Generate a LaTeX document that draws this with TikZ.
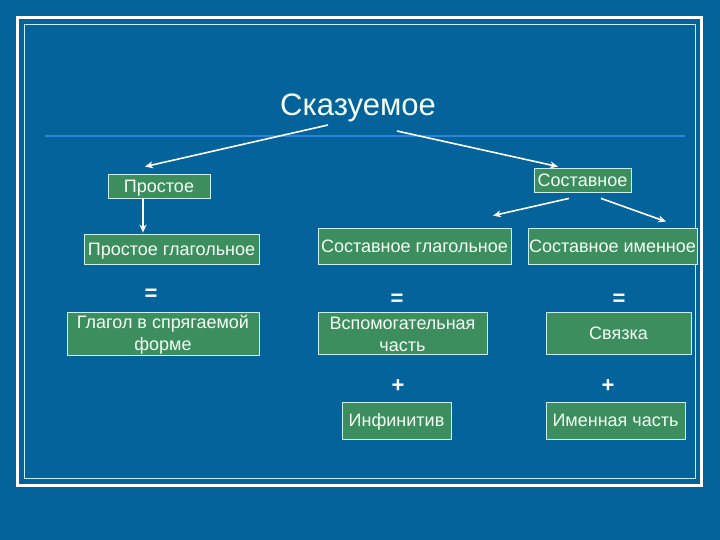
\documentclass[tikz,border=0pt]{standalone}
\usepackage{fontspec}
\setmainfont{Liberation Sans}
\usetikzlibrary{arrows.meta,calc,positioning}
\definecolor{skazBlue}{HTML}{03639A}
\definecolor{skazGreen}{HTML}{3D8E5F}
\definecolor{skazEdge}{HTML}{C8F0EE}
\definecolor{skazRule}{HTML}{2A84DE}
\definecolor{skazText}{HTML}{F4FFF6}

\begin{document}
\begin{tikzpicture}[x=1pt,y=-1pt, every node/.style={font=\fontsize{18}{22}\selectfont, text=skazText},
    box/.style={draw=skazEdge, fill=skazGreen, line width=0.8pt, inner sep=1pt, align=center},
    oneline/.style={text height=15pt, text depth=2.1pt},
    twoline/.style={inner ysep=0pt},
    arr/.style={draw=white, line width=1.6pt, -{Stealth[length=8pt,width=7pt]}},
    sign/.style={font=\fontsize{22}{24}\selectfont\bfseries, text=white}]
    \useasboundingbox (0,0) rectangle (720,540);
    \fill[skazBlue] (0,0) rectangle (720,540);
    \draw[white, line width=3pt] (17.5,17.5) rectangle (701.5,485.5);
    \draw[skazEdge, line width=0.8pt] (24.5,24.5) rectangle (695.5,478.5);
    \draw[skazRule, line width=1.2pt] (45,136) -- (685,136);
    \node[font=\fontsize{31}{34}\selectfont, anchor=base] (title) at (358,116) {Сказуемое};

    \node[box, oneline, minimum width=102, minimum height=24] (prost) at (159,186) {Простое};
    \node[box, oneline, minimum width=97, minimum height=24] (sost) at (582.5,180) {Составное};
    \node[box, oneline, minimum width=175, minimum height=30] (pglag) at (171.5,249) {Простое глагольное};
    \node[box, oneline, minimum width=193, minimum height=36] (sglag) at (414.5,246) {Составное глагольное};
    \node[box, oneline, minimum width=169, minimum height=36] (simen) at (612.5,246) {Составное именное};
    \node[box, twoline, minimum width=192, minimum height=43] (glagol) at (163,333.5) {\rule{0pt}{16pt}Глагол в спрягаемой\\форме};
    \node[box, twoline, minimum width=169, minimum height=42] (vspom) at (402.5,333) {\rule{0pt}{16pt}Вспомогательная\\часть};
    \node[box, oneline, minimum width=145, minimum height=42] (svyaz) at (618.5,333) {Связка};
    \node[box, oneline, minimum width=109, minimum height=37] (infin) at (396.5,420.5) {Инфинитив};
    \node[box, oneline, minimum width=139, minimum height=37] (imen) at (615.5,420.5) {Именная часть};

    \node[sign] (eq1) at (151,295) {=};
    \node[sign] (eq2) at (397,300) {=};
    \node[sign] (eq3) at (619,300) {=};
    \node[sign] (pl1) at (398,386) {+};
    \node[sign] (pl2) at (608,386) {+};

    \draw[arr] ([xshift=-30pt,yshift=-9pt]title.base) -- ([xshift=-14pt,yshift=7pt]prost.north);
    \draw[arr] ([xshift=39pt,yshift=-15pt]title.base) -- ([xshift=-24.5pt,yshift=1pt]sost.north);
    \draw[arr] ([xshift=-16pt]prost.south) -- ([xshift=-16pt,yshift=1pt]prost.south |- pglag.north);
    \draw[arr] ([xshift=-13.5pt,yshift=-6pt]sost.south) -- ([xshift=78.5pt,yshift=12pt]sglag.north);
    \draw[arr] ([xshift=18.5pt,yshift=-6pt]sost.south) -- ([xshift=53.5pt,yshift=6pt]simen.north);
  \end{tikzpicture}
\end{document}
